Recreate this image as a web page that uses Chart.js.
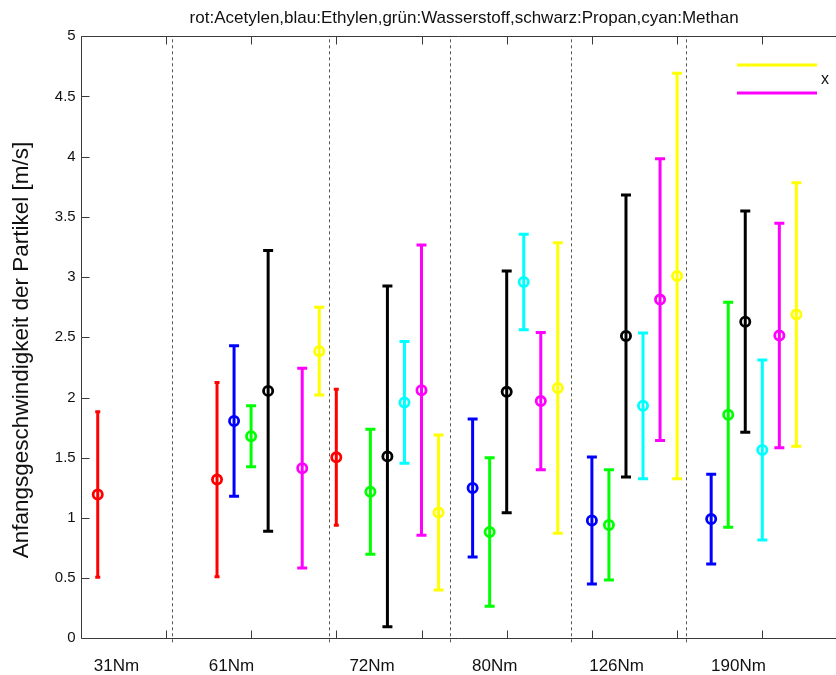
<!DOCTYPE html>
<html>
<head>
<meta charset="utf-8">
<script src="https://cdn.jsdelivr.net/npm/chart.js@4.4.1/dist/chart.umd.min.js"></script>
<style>
  html, body { margin: 0; padding: 0; background: #fff; overflow: hidden; }
  #wrap { width: 844px; height: 675px; position: relative; }
</style>
</head>
<body>
<div id="wrap"><canvas id="c"></canvas></div>
<script>
// Torque levels and where their labels sit on the x axis
const categories = ['31Nm', '61Nm', '72Nm', '80Nm', '126Nm', '190Nm'];
const categoryPos = [0.42, 1.77, 3.42, 4.86, 6.29, 7.72];
// dashed separators between the torque groups
const separators = [1.07, 2.91, 4.33, 5.75, 7.11];
const yTicks = [0, 0.5, 1, 1.5, 2, 2.5, 3, 3.5, 4, 4.5, 5];
const xAxisEnd = 9;

// Mean initial velocity [m/s] and its scatter (± value) per torque level
const rotMean      = [1.194, 1.318, 1.503, null,  null,  null ];
const rotErr       = [0.687, 0.806, 0.565, null,  null,  null ];
const blauMean     = [null,  1.805, null,  1.248, 0.978, 0.990];
const blauErr      = [null,  0.625, null,  0.573, 0.528, 0.373];
const gruenMean    = [null,  1.678, 1.217, 0.883, 0.942, 1.857];
const gruenErr     = [null,  0.253, 0.519, 0.617, 0.458, 0.934];
const schwarzMean  = [null,  2.055, 1.511, 2.047, 2.511, 2.630];
const schwarzErr   = [null,  1.166, 1.415, 1.004, 1.171, 0.919];
const cyanMean     = [null,  null,  1.959, 2.959, 1.931, 1.564];
const cyanErr      = [null,  null,  0.506, 0.396, 0.605, 0.748];
const magentaMean  = [null,  1.413, 2.061, 1.970, 2.813, 2.515];
const magentaErr   = [null,  0.829, 1.206, 0.570, 1.170, 0.932];
const gelbMean     = [null,  2.385, 1.045, 2.079, 3.010, 2.690];
const gelbErr      = [null,  0.365, 0.644, 1.207, 1.684, 1.094];

const series = [
  { name: 'Acetylen',    color: '#ff0000', mean: rotMean,     err: rotErr,     cap: 2.5 },
  { name: 'Ethylen',     color: '#0000ff', mean: blauMean,    err: blauErr,    cap: 5 },
  { name: 'Wasserstoff', color: '#00ff00', mean: gruenMean,   err: gruenErr,   cap: 5 },
  { name: 'Propan',      color: '#000000', mean: schwarzMean, err: schwarzErr, cap: 5 },
  { name: 'Methan',      color: '#00ffff', mean: cyanMean,    err: cyanErr,    cap: 5 },
  { name: 'magenta',     color: '#ff00ff', mean: magentaMean, err: magentaErr, cap: 5 },
  { name: 'gelb',        color: '#ffff00', mean: gelbMean,    err: gelbErr,    cap: 5 }
];

// each torque group has one slot per series, 0.2 apart
const slotX = (g, s) => 0.2 + 1.4 * g + 0.2 * s;

const datasets = [];
series.forEach((sr, s) => {
  const bars = [], caps = [], marks = [];
  sr.mean.forEach((m, g) => {
    if (m === null) return;
    const x = slotX(g, s), e = sr.err[g];
    bars.push({ x, y: m - e }, { x, y: m + e }, { x, y: null });
    caps.push({ x, y: m - e }, { x, y: m + e });
    marks.push({ x, y: m });
  });
  datasets.push({
    label: sr.name + ' Streuung', data: bars, showLine: true, spanGaps: false,
    borderColor: sr.color, borderWidth: 3, pointRadius: 0, order: 3
  });
  datasets.push({
    label: sr.name + ' Enden', data: caps, showLine: false,
    pointStyle: 'line', pointRadius: sr.cap, pointHoverRadius: sr.cap,
    borderColor: sr.color, borderWidth: 3, order: 2
  });
  datasets.push({
    label: sr.name, data: marks, showLine: false,
    pointStyle: 'circle', pointRadius: 4.6, pointHoverRadius: 4.6,
    borderColor: sr.color, backgroundColor: 'rgba(0,0,0,0)', borderWidth: 2.8, order: 1
  });
});

const AXIS = '#3a3a3a';
const FONT = "'Liberation Sans', Arial, sans-serif";
const TITLE = 'rot:Acetylen,blau:Ethylen,grün:Wasserstoff,schwarz:Propan,cyan:Methan';
const YLABEL = 'Anfangsgeschwindigkeit der Partikel [m/s]';

const framePlugin = {
  id: 'frame',
  beforeDatasetsDraw(chart) {
    const { ctx, chartArea: a, scales: { x } } = chart;
    ctx.save();
    ctx.strokeStyle = '#555';
    ctx.lineWidth = 1;
    ctx.setLineDash([3, 3]);
    separators.forEach(v => {
      const px = Math.round(x.getPixelForValue(v)) + 0.5;
      ctx.beginPath();
      ctx.moveTo(px, a.top + 3);
      ctx.lineTo(px, a.bottom + 6);
      ctx.stroke();
    });
    ctx.restore();
  },
  afterDatasetsDraw(chart) {
    const { ctx, chartArea: a, scales: { x, y } } = chart;
    ctx.save();
    ctx.strokeStyle = AXIS;
    ctx.lineWidth = 1;
    // box: left, top and bottom edges
    const L = Math.round(a.left) + 0.5, T = Math.round(a.top) + 0.5, B = Math.round(a.bottom) + 0.5;
    ctx.beginPath();
    ctx.moveTo(a.right, T); ctx.lineTo(L, T); ctx.lineTo(L, B); ctx.lineTo(a.right, B);
    ctx.stroke();
    // inward tick marks
    ctx.beginPath();
    for (let v = 1; v <= Math.floor(x.max); v++) {
      const px = Math.round(x.getPixelForValue(v)) + 0.5;
      ctx.moveTo(px, B); ctx.lineTo(px, B - 8);
      ctx.moveTo(px, T); ctx.lineTo(px, T + 8);
    }
    yTicks.forEach(v => {
      const py = Math.round(y.getPixelForValue(v)) + 0.5;
      ctx.moveTo(L, py); ctx.lineTo(L + 8, py);
    });
    ctx.stroke();
    ctx.restore();
  },
  afterDraw(chart) {
    const { ctx, scales: { x } } = chart;
    ctx.save();
    // title, centred over the full axis width
    ctx.fillStyle = '#111';
    ctx.font = '17px ' + FONT;
    ctx.textAlign = 'center';
    ctx.textBaseline = 'alphabetic';
    ctx.fillText(TITLE, x.getPixelForValue(xAxisEnd / 2), 23);
    // legend box entries
    ctx.lineWidth = 3;
    ctx.strokeStyle = '#ffff00';
    ctx.beginPath(); ctx.moveTo(737, 65); ctx.lineTo(817, 65); ctx.stroke();
    ctx.strokeStyle = '#ff00ff';
    ctx.beginPath(); ctx.moveTo(737, 93); ctx.lineTo(817, 93); ctx.stroke();
    ctx.font = '16px ' + FONT;
    ctx.textBaseline = 'middle';
    ctx.fillText('x', 825, 80);
    // rotated y-axis label
    ctx.translate(22, 350);
    ctx.rotate(-Math.PI / 2);
    ctx.font = '22.5px ' + FONT;
    ctx.fillText(YLABEL, 0, 0);
    ctx.restore();
  }
};

new Chart(document.getElementById('c'), {
  type: 'scatter',
  data: { datasets },
  options: {
    responsive: true,
    maintainAspectRatio: false,
    animation: false,
    events: [],
    layout: { padding: { left: 0, right: 0, top: 36.3, bottom: 0 } },
    plugins: {
      legend: { display: false },
      tooltip: { enabled: false },
      title: { display: false }
    },
    scales: {
      x: {
        type: 'linear', min: 0, max: 8.865,
        grid: { display: false, drawTicks: false },
        border: { display: false },
        afterBuildTicks: (s) => { s.ticks = categoryPos.map(v => ({ value: v })); },
        afterFit: (s) => { s.height = 36.7; },
        ticks: {
          autoSkip: false, maxRotation: 0, padding: 18,
          color: '#111', font: { family: FONT, size: 17 },
          callback: (v, i) => categories[i]
        }
      },
      y: {
        type: 'linear', min: 0, max: 5,
        grid: { display: false, drawTicks: false },
        border: { display: false },
        afterBuildTicks: (s) => { s.ticks = yTicks.map(v => ({ value: v })); },
        afterFit: (s) => { s.width = 80.7; },
        ticks: {
          padding: 5, color: '#111', font: { family: FONT, size: 15 },
          callback: (v) => String(v)
        }
      }
    }
  },
  plugins: [framePlugin]
});
</script>
</body>
</html>
